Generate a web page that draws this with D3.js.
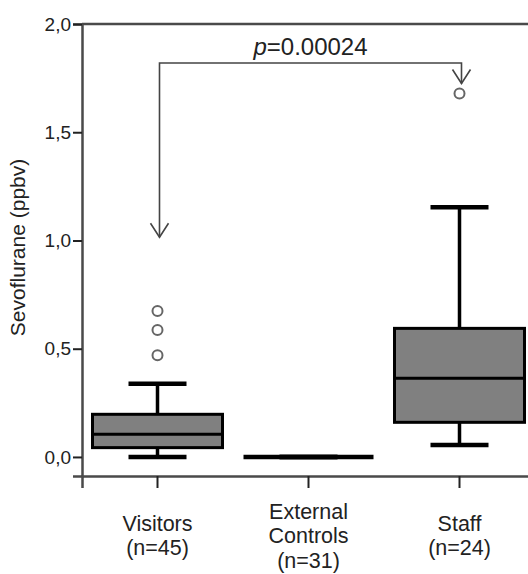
<!DOCTYPE html>
<html>
<head>
<meta charset="utf-8">
<script src="https://cdn.jsdelivr.net/npm/d3@7"></script>
<style>
  body { margin: 0; background: #fff; }
  text { font-family: "Liberation Sans", Arial, sans-serif; fill: #222; }
</style>
</head>
<body>
<script>
// Box plot data
const categories = ["Visitors", "External Controls", "Staff"];
const labelLines = [["Visitors", "(n=45)"], ["External", "Controls", "(n=31)"], ["Staff", "(n=24)"]];
const whiskerLow  = [0.0,   0.0, 0.055];
const q1          = [0.043, 0.0, 0.16];
const medians     = [0.105, 0.0, 0.363];
const q3          = [0.197, 0.0, 0.594];
const whiskerHigh = [0.338, 0.0, 1.153];
const outliers    = [[0.47, 0.586, 0.674], [], [1.679]];
const yTicks = [0, 0.5, 1.0, 1.5, 2.0];

// significance bracket
const sigPair = ["Visitors", "Staff"];
const bracketLevel = 1.82;
const arrowTips = [1.015, 1.725];
const pValue = "0.00024";

// Margin convention
const margin = {top: 24, right: -7, bottom: 98, left: 82};
const W = 528, H = 574;
const width = W - margin.left - margin.right,
      height = H - margin.top - margin.bottom;

const svg = d3.select("body").append("svg")
  .attr("width", W)
  .attr("height", H)
  .append("g")
  .attr("transform", `translate(${margin.left},${margin.top})`);

const x = d3.scaleBand().domain(categories).range([0, width]).padding(0);
const y = d3.scaleLinear().domain([-0.088, 2]).range([height, 0]);
const cx = c => x(c) + x.bandwidth() / 2;
const boxW = 130, capW = 58;
const axisColor = "#4a4a4a";

// frame: top line
svg.append("line")
  .attr("x1", 0).attr("x2", width)
  .attr("y1", 0).attr("y2", 0)
  .attr("stroke", axisColor).attr("stroke-width", 2.5);

// y axis
const yAxis = svg.append("g")
  .call(d3.axisLeft(y).tickValues(yTicks).tickSize(9).tickPadding(2)
    .tickFormat(d => d3.format(".1f")(d).replace(".", ",")));
yAxis.select(".domain").attr("stroke", axisColor).attr("stroke-width", 2.5);
yAxis.selectAll(".tick line").attr("stroke", "#222").attr("stroke-width", 2);
yAxis.selectAll(".tick text")
  .attr("font-size", 19).attr("fill", "#333")
  .style("font-family", "Liberation Sans, Arial, sans-serif");

// x axis
const xAxis = svg.append("g")
  .attr("transform", `translate(0,${height})`)
  .call(d3.axisBottom(x).tickSize(12).tickFormat(""));
xAxis.select(".domain").attr("stroke", axisColor).attr("stroke-width", 2.5);
xAxis.selectAll(".tick line").attr("stroke", "#222").attr("stroke-width", 2);

// multi-line category labels
categories.forEach((c, i) => {
  const lines = labelLines[i];
  const mid = height + 67;
  const lh = 24.5;
  const t = svg.append("text")
    .attr("text-anchor", "middle")
    .attr("font-size", 21.5)
    .attr("fill", "#333");
  lines.forEach((l, j) => {
    t.append("tspan")
      .attr("x", cx(c))
      .attr("y", mid + (j - (lines.length - 1) / 2) * lh)
      .text(l);
  });
});

// y axis title
svg.append("text")
  .attr("transform", `translate(${-57},${(y(0) + y(2)) / 2 + 7}) rotate(-90)`)
  .attr("text-anchor", "middle")
  .attr("font-size", 21)
  .attr("fill", "#333")
  .text("Sevoflurane (ppbv)");

// boxes
const boxes = svg.append("g").selectAll("g")
  .data(categories)
  .join("g");

boxes.append("line")
  .attr("x1", cx).attr("x2", cx)
  .attr("y1", (d, i) => y(whiskerLow[i]))
  .attr("y2", (d, i) => y(whiskerHigh[i]))
  .attr("stroke", "#000").attr("stroke-width", 3.5);

boxes.each(function(d, i) {
  const g = d3.select(this);
  [whiskerLow[i], whiskerHigh[i]].forEach(v => {
    g.append("line")
      .attr("x1", cx(d) - capW / 2).attr("x2", cx(d) + capW / 2)
      .attr("y1", y(v)).attr("y2", y(v))
      .attr("stroke", "#000").attr("stroke-width", 4.5);
  });
});

boxes.append("rect")
  .attr("x", d => cx(d) - boxW / 2)
  .attr("width", boxW)
  .attr("y", (d, i) => y(q3[i]))
  .attr("height", (d, i) => y(q1[i]) - y(q3[i]))
  .attr("fill", "#808080")
  .attr("stroke", "#000").attr("stroke-width", 3);

boxes.append("line")
  .attr("x1", d => cx(d) - boxW / 2).attr("x2", d => cx(d) + boxW / 2)
  .attr("y1", (d, i) => y(medians[i])).attr("y2", (d, i) => y(medians[i]))
  .attr("stroke", "#000")
  .attr("stroke-width", (d, i) => q3[i] === q1[i] ? 4.5 : 3);

boxes.each(function(d, i) {
  d3.select(this).selectAll("circle")
    .data(outliers[i])
    .join("circle")
    .attr("cx", cx(d))
    .attr("cy", v => y(v))
    .attr("r", 5)
    .attr("fill", "#fff")
    .attr("stroke", "#666")
    .attr("stroke-width", 2);
});

// significance bracket with arrows
const bx = sigPair.map(c => cx(c) + 2);
const by = y(bracketLevel);
const ann = svg.append("g")
  .attr("stroke", "#444").attr("stroke-width", 1.6).attr("fill", "none");
ann.append("path")
  .attr("d", `M${bx[0]},${y(arrowTips[0])}V${by}H${bx[1]}V${y(arrowTips[1])}`);
bx.forEach((xx, i) => {
  const ty = y(arrowTips[i]);
  ann.append("path")
    .attr("d", `M${xx - 9},${ty - 14}L${xx},${ty}L${xx + 9},${ty - 14}`);
});

const pt = svg.append("text")
  .attr("x", (bx[0] + bx[1]) / 2)
  .attr("y", by - 8)
  .attr("text-anchor", "middle")
  .attr("font-size", 24)
  .attr("fill", "#333");
pt.append("tspan").attr("font-style", "italic").text("p");
pt.append("tspan").text("=" + pValue);
</script>
</body>
</html>
